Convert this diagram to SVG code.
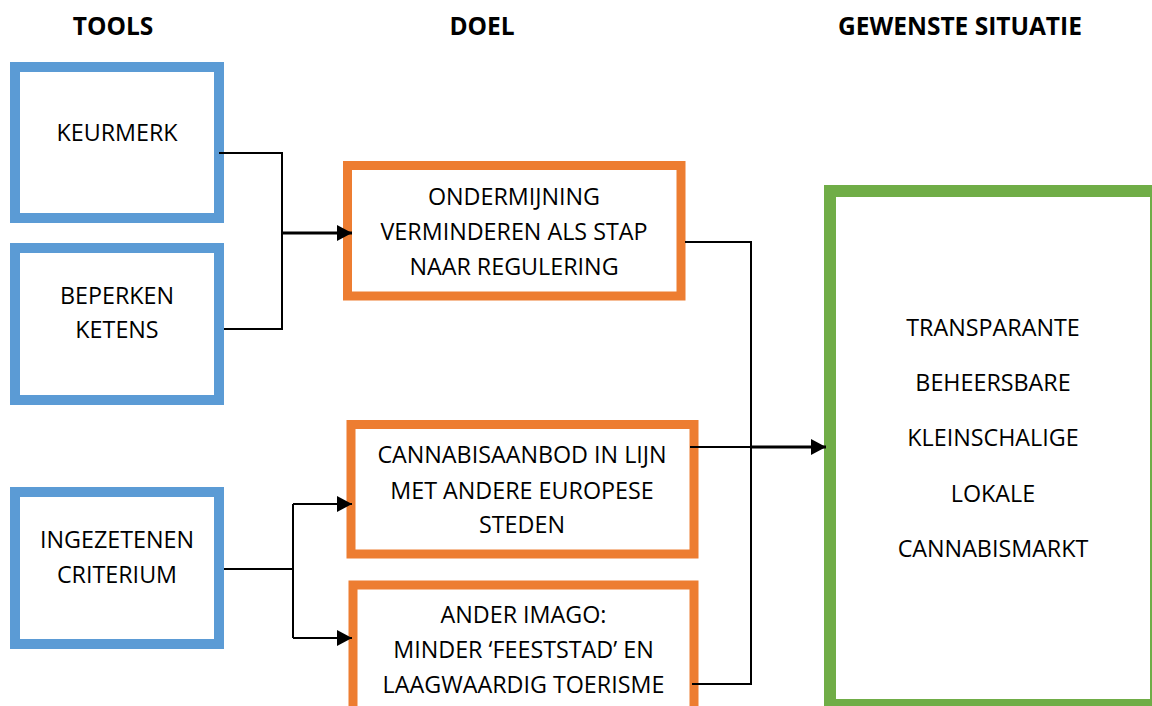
<svg xmlns="http://www.w3.org/2000/svg" width="1152" height="706" viewBox="0 0 1152 706">
<defs>
<style>
.t{font-family:"Open Sans","Liberation Sans",sans-serif;font-size:23.3px;fill:#000;text-anchor:middle}
.h{font-family:"Open Sans","Liberation Sans",sans-serif;font-size:24.5px;font-weight:bold;fill:#000;text-anchor:middle}
.blue{fill:#fff;stroke:#5B9BD5;stroke-width:10}
.orange{fill:#fff;stroke:#ED7D31;stroke-width:9}
.green{fill:#fff;stroke:#70AD47;stroke-width:12}
.c{fill:none;stroke:#000;stroke-width:2}
.ca{fill:none;stroke:#000;stroke-width:3}
</style>
<marker id="arr" markerWidth="16" markerHeight="16" refX="15" refY="8" orient="auto" markerUnits="userSpaceOnUse">
<path d="M0,0 L15,8 L0,16 Z" fill="#000"/>
</marker>
</defs>
<rect width="1152" height="706" fill="#fff"/>
<g id="headers">
<text class="h" x="113" y="35">TOOLS</text>
<text class="h" x="482" y="35">DOEL</text>
<text class="h" x="960" y="35">GEWENSTE SITUATIE</text>
</g>
<g id="keurmerk">
<rect class="blue" x="15" y="67" width="204" height="151"/>
<text class="t" x="117" y="141">KEURMERK</text>
</g>
<g id="beperken">
<rect class="blue" x="15" y="248" width="204" height="152"/>
<text class="t" x="117" y="304">BEPERKEN</text>
<text class="t" x="117" y="338">KETENS</text>
</g>
<g id="ingezetenen">
<rect class="blue" x="15" y="492" width="204" height="152"/>
<text class="t" x="117" y="548">INGEZETENEN</text>
<text class="t" x="117" y="583">CRITERIUM</text>
</g>
<g id="ondermijning">
<rect class="orange" x="347.5" y="165.5" width="333.5" height="130.5"/>
<text class="t" x="514" y="205">ONDERMIJNING</text>
<text class="t" x="514" y="240">VERMINDEREN ALS STAP</text>
<text class="t" x="514" y="275">NAAR REGULERING</text>
</g>
<g id="cannabisaanbod">
<rect class="orange" x="351" y="424.5" width="343" height="129.5"/>
<text class="t" x="522" y="463">CANNABISAANBOD IN LIJN</text>
<text class="t" x="522" y="499">MET ANDERE EUROPESE</text>
<text class="t" x="522" y="533">STEDEN</text>
</g>
<g id="imago">
<rect class="orange" x="353" y="585" width="341" height="130"/>
<text class="t" x="523.5" y="623">ANDER IMAGO:</text>
<text class="t" x="523.5" y="658">MINDER ‘FEESTSTAD’ EN</text>
<text class="t" x="523.5" y="693">LAAGWAARDIG TOERISME</text>
</g>
<g id="situatie">
<rect class="green" x="830" y="191" width="326" height="514"/>
<text class="t" x="993" y="335.5">TRANSPARANTE</text>
<text class="t" x="993" y="391">BEHEERSBARE</text>
<text class="t" x="993" y="446">KLEINSCHALIGE</text>
<text class="t" x="993" y="501.5">LOKALE</text>
<text class="t" x="993" y="557">CANNABISMARKT</text>
</g>
<g id="connectors">
<polyline class="c" points="219,153 282,153 282,329 224,329"/>
<line class="ca" x1="282" y1="233" x2="352" y2="233" marker-end="url(#arr)"/>
<polyline class="c" points="224,569 293,569"/>
<polyline class="c" points="293,504 293,638"/>
<line class="c" x1="293" y1="504" x2="352" y2="504" marker-end="url(#arr)"/>
<line class="c" x1="293" y1="638" x2="352" y2="638" marker-end="url(#arr)"/>
<polyline class="c" points="685,242 751,242 751,684 692,684"/>
<line class="c" x1="690" y1="447" x2="751" y2="447"/>
<line class="ca" x1="751" y1="447" x2="826" y2="447" marker-end="url(#arr)"/>
</g>
</svg>
